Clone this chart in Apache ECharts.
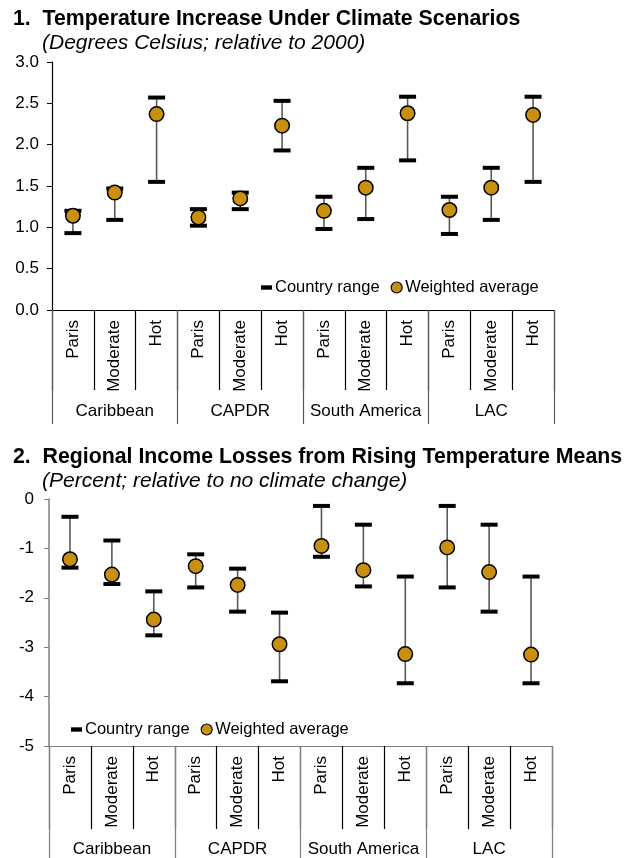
<!DOCTYPE html>
<html>
<head>
<meta charset="utf-8">
<script src="https://cdn.jsdelivr.net/npm/echarts@6/dist/echarts.min.js"></script>
<style>
  html, body { margin: 0; padding: 0; background: #fff; }
  #chart { width: 634px; height: 858px; }
</style>
</head>
<body>
<div id="chart"></div>
<script>
// categories
const scenarios = ['Paris', 'Moderate', 'Hot', 'Paris', 'Moderate', 'Hot',
                   'Paris', 'Moderate', 'Hot', 'Paris', 'Moderate', 'Hot'];
const regions = ['Caribbean', 'CAPDR', 'South America', 'LAC'];

// chart 1: temperature increase (deg C, relative to 2000)
const tempAvg  = [1.14, 1.42, 2.37, 1.12, 1.35, 2.23, 1.20, 1.48, 2.38, 1.21, 1.48, 2.36];
const tempLow  = [0.93, 1.09, 1.55, 1.02, 1.22, 1.93, 0.98, 1.10, 1.81, 0.92, 1.09, 1.55];
const tempHigh = [1.20, 1.47, 2.57, 1.22, 1.42, 2.53, 1.37, 1.72, 2.58, 1.37, 1.72, 2.58];

// chart 2: regional income losses (percent)
const incAvg  = [-1.22, -1.53, -2.44, -1.36, -1.74, -2.94, -0.95, -1.44, -3.14, -0.98, -1.48, -3.15];
const incLow  = [-1.39, -1.72, -2.76, -1.79, -2.28, -3.69, -1.17, -1.77, -3.73, -1.79, -2.28, -3.73];
const incHigh = [-0.36, -0.84, -1.87, -1.12, -1.41, -2.30, -0.14, -0.52, -1.57, -0.14, -0.52, -1.57];

const FONT = 'Liberation Sans, Arial, sans-serif';
const GOLD = '#C8900E';

var chart = echarts.init(document.getElementById('chart'));

function rangeData(low, high) {
    return low.map(function (v, i) { return [i, v, high[i]]; });
}

// whisker + two caps
function renderRange(params, api) {
    var lo = api.coord([api.value(0), api.value(1)]);
    var hi = api.coord([api.value(0), api.value(2)]);
    var x = lo[0];
    var w = 17, h = 4;
    return {
        type: 'group',
        children: [
            { type: 'line', shape: { x1: x, y1: lo[1], x2: x, y2: hi[1] },
              style: { stroke: '#595959', lineWidth: 1.6 } },
            { type: 'rect', shape: { x: x - w / 2, y: lo[1] - h / 2, width: w, height: h },
              style: { fill: '#000' } },
            { type: 'rect', shape: { x: x - w / 2, y: hi[1] - h / 2, width: w, height: h },
              style: { fill: '#000' } }
        ]
    };
}

function itemAxis(grid, tickLen, color) {
    return {
        type: 'category', gridIndex: grid, position: 'bottom', data: scenarios,
        axisLine: { show: true, onZero: false, lineStyle: { color: color, width: 1.2 } },
        axisTick: { show: true, length: tickLen, interval: 0, lineStyle: { color: '#000', width: 1.2 } },
        axisLabel: { rotate: 90, interval: 0, margin: 10, fontSize: 17, color: '#000', fontFamily: FONT }
    };
}
function groupAxis(grid, tickLen, margin, color) {
    return {
        type: 'category', gridIndex: grid, position: 'bottom', data: regions,
        axisLine: { show: false, onZero: false },
        axisTick: { show: true, length: tickLen, interval: 0, lineStyle: { color: color, width: 1.2 } },
        axisLabel: { interval: 0, margin: margin, fontSize: 17, color: '#000', fontFamily: FONT }
    };
}
function legendFor(left, top) {
    return {
        left: left, top: top, itemGap: 11, itemWidth: 11, itemHeight: 11,
        textStyle: { fontSize: 16.5, color: '#000', fontFamily: FONT, padding: [0, 0, 0, -2] },
        data: [
            { name: 'Country range', icon: 'path://M0,0h10v4h-10z', itemStyle: { color: '#000' } },
            { name: 'Weighted average', icon: 'circle',
              itemStyle: { color: GOLD, borderColor: '#000', borderWidth: 1.2 } }
        ]
    };
}

const titleStyle = { fontSize: 21.3, fontWeight: 'bold', color: '#000', fontFamily: FONT };
const subStyle = { fontSize: 21, fontStyle: 'italic', fontWeight: 'normal', color: '#000', fontFamily: FONT };

const option = {
    animation: false,
    title: [
        { text: '1.  Temperature Increase Under Climate Scenarios', left: 8, top: 4, textStyle: titleStyle },
        { text: '(Degrees Celsius; relative to 2000)', left: 37, top: 28, textStyle: subStyle },
        { text: '2.  Regional Income Losses from Rising Temperature Means', left: 8, top: 442, textStyle: titleStyle },
        { text: '(Percent; relative to no climate change)', left: 37, top: 466, textStyle: subStyle }
    ],
    legend: [legendFor(256, 274), legendFor(66, 716)],
    grid: [
        { left: 52, top: 62, width: 502, height: 248 },
        { left: 49, top: 499, width: 503, height: 247 }
    ],
    xAxis: [
        itemAxis(0, 80, '#000'),
        groupAxis(0, 114, 93, '#595959'),
        itemAxis(1, 83, '#7f7f7f'),
        groupAxis(1, 112, 95, '#7f7f7f')
    ],
    yAxis: [
        {
            type: 'value', gridIndex: 0, min: 0, max: 3, interval: 0.5,
            axisLine: { show: true, lineStyle: { color: '#000', width: 1.2 } },
            axisTick: { show: true, length: 5, lineStyle: { color: '#000' } },
            splitLine: { show: false },
            axisLabel: { margin: 13, fontSize: 17, color: '#000', fontFamily: FONT,
                         formatter: function (v) { return v.toFixed(1); } }
        },
        {
            type: 'value', gridIndex: 1, min: -5, max: 0, interval: 1,
            axisLine: { show: true, lineStyle: { color: '#7f7f7f', width: 1.5 } },
            axisTick: { show: true, length: 5, lineStyle: { color: '#7f7f7f' } },
            splitLine: { show: false },
            axisLabel: { margin: 15, fontSize: 17, color: '#000', fontFamily: FONT }
        }
    ],
    series: [
        {
            name: 'Country range', type: 'custom', xAxisIndex: 0, yAxisIndex: 0,
            renderItem: renderRange, data: rangeData(tempLow, tempHigh),
            itemStyle: { color: '#000' }, z: 2
        },
        {
            name: 'Weighted average', type: 'scatter', xAxisIndex: 0, yAxisIndex: 0,
            data: tempAvg, symbol: 'circle', symbolSize: 14.5,
            itemStyle: { color: GOLD, borderColor: '#000', borderWidth: 1.5, opacity: 1 }, z: 3
        },
        {
            name: 'Country range', type: 'custom', xAxisIndex: 2, yAxisIndex: 1,
            renderItem: renderRange, data: rangeData(incLow, incHigh),
            itemStyle: { color: '#000' }, z: 2
        },
        {
            name: 'Weighted average', type: 'scatter', xAxisIndex: 2, yAxisIndex: 1,
            data: incAvg, symbol: 'circle', symbolSize: 14.5,
            itemStyle: { color: GOLD, borderColor: '#000', borderWidth: 1.5, opacity: 1 }, z: 3
        }
    ]
};

chart.setOption(option);
</script>
</body>
</html>
